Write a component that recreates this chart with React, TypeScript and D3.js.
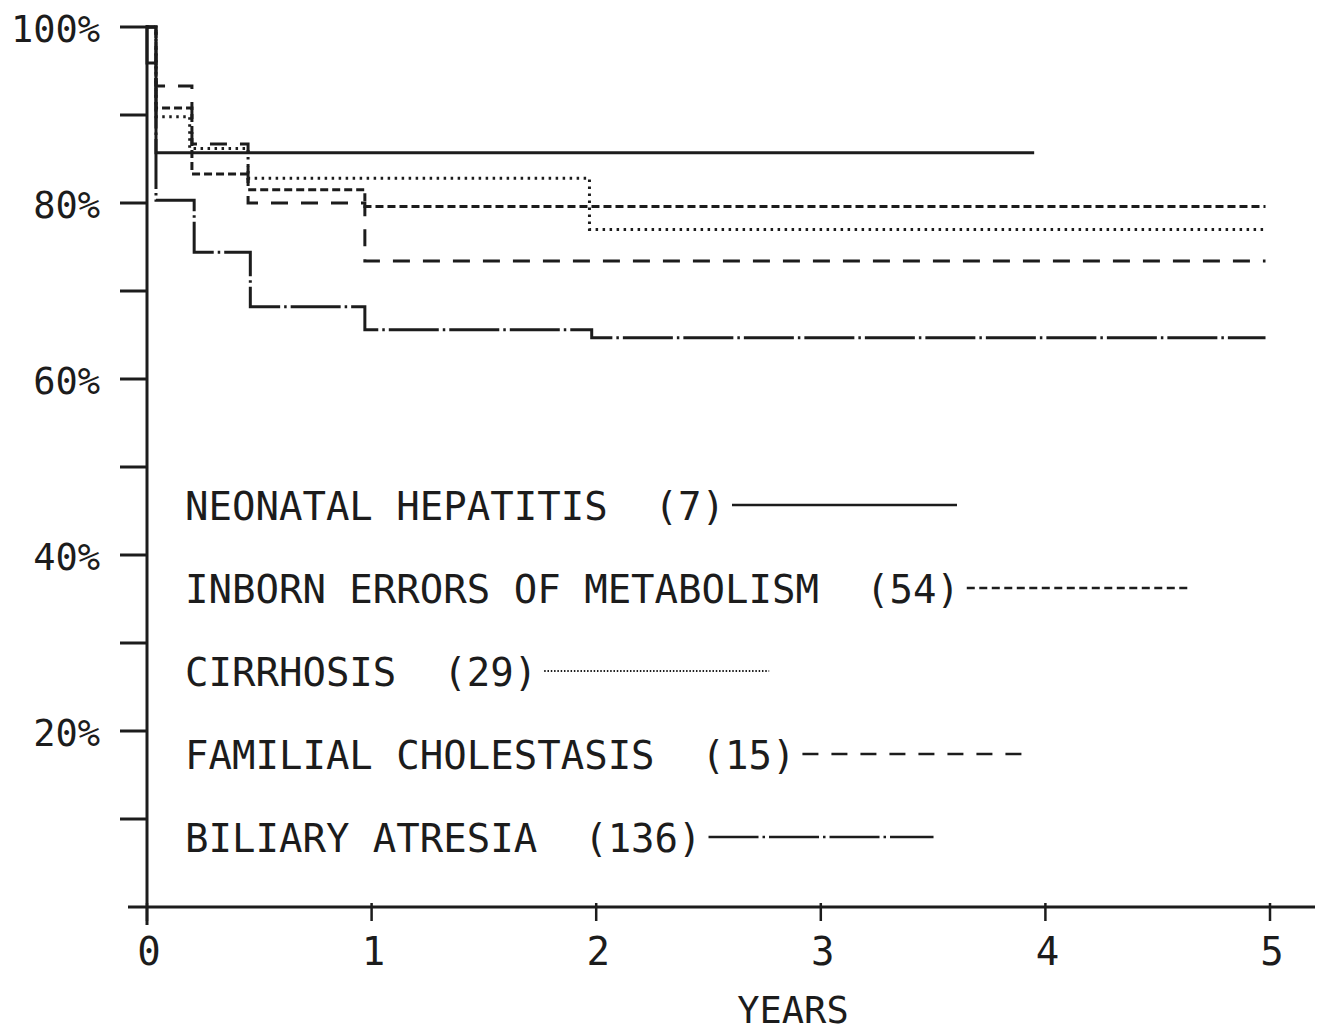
import * as d3 from 'd3';
import React from 'react';

// survival (%) by years after transplant
const neonatal = [[0, 100], [0.04, 85.7], [3.95, 85.7]];
const inborn = [[0, 100], [0.04, 90.8], [0.2, 83.3], [0.45, 81.5], [0.97, 79.6], [4.98, 79.6]];
const cirrhosis = [[0, 100], [0.04, 89.8], [0.19, 86.2], [0.45, 82.8], [1.97, 77.0], [4.98, 77.0]];
const familial = [[0, 100], [0.04, 93.3], [0.2, 86.7], [0.45, 80.0], [0.97, 73.4], [4.98, 73.4]];
const biliary = [[0, 100], [0, 95.9], [0.04, 80.3], [0.21, 74.4], [0.46, 68.2], [0.97, 65.6], [1.98, 64.7], [4.98, 64.7]];

const legendLabels = [
    'NEONATAL HEPATITIS  (7)',
    'INBORN ERRORS OF METABOLISM  (54)',
    'CIRRHOSIS  (29)',
    'FAMILIAL CHOLESTASIS  (15)',
    'BILIARY ATRESIA  (136)'
];

const yTicks = [10, 20, 30, 40, 50, 60, 70, 80, 90, 100];
const yLabels = [20, 40, 60, 80, 100];
const xTicks = [0, 1, 2, 3, 4, 5];

const FONT = "'DejaVu Sans Mono', monospace";
const INK = '#1c1c1c';

const series = [
    { data: neonatal, dash: null, legendDash: null },
    { data: inborn, dash: '8 4', legendDash: '8 4.5' },
    { data: cirrhosis, dash: '2.5 4.5', legendDash: '1.5 1.8' },
    { data: familial, dash: '17 13', legendDash: '16 13' },
    { data: biliary, dash: '50 4 2.5 4', legendDash: '50 4 2.5 4' }
];

export default function App() {
    const x = d3.scaleLinear().domain([0, 5]).range([147, 1270]);
    const y = d3.scaleLinear().domain([0, 100]).range([907, 27]);

    const line = d3.line<number[]>()
        .x(d => x(d[0]))
        .y(d => y(d[1]))
        .curve(d3.curveStepAfter);

    const pitch = 0.602 * 39;
    const legendTop = 520;
    const legendStep = 83;

    return (
        <div style={{ position: 'absolute', left: 0, top: 0 }}>
            <svg width={1324} height={1034} style={{ display: 'block', background: '#fff' }}>
                {/* axes */}
                <line x1={x(0)} x2={x(0)} y1={y(100) - 2} y2={925} stroke={INK} strokeWidth={3} />
                <line x1={128} x2={1315} y1={y(0)} y2={y(0)} stroke={INK} strokeWidth={3} />

                {yTicks.map(t => (
                    <line key={'yt' + t} x1={x(0) - 27} x2={x(0)} y1={y(t)} y2={y(t)}
                        stroke={INK} strokeWidth={3} />
                ))}
                {yLabels.map(t => (
                    <text key={'yl' + t} x={100} y={y(t) + 15} textAnchor='end'
                        fontFamily={FONT} fontSize={37} fill={INK}>{t}%</text>
                ))}

                {xTicks.map(t => (
                    <line key={'xt' + t} x1={x(t)} x2={x(t)} y1={y(0) - 4} y2={y(0) + 14}
                        stroke={INK} strokeWidth={2.5} />
                ))}
                {xTicks.map(t => (
                    <text key={'xl' + t} x={x(t) + 2} y={965} textAnchor='middle'
                        fontFamily={FONT} fontSize={39} fill={INK}>{t}</text>
                ))}
                <text x={793} y={1023} textAnchor='middle' fontFamily={FONT} fontSize={37}
                    fill={INK}>YEARS</text>

                {/* survival curves */}
                {series.map((s, i) => (
                    <path key={'s' + i} d={line(s.data) || ''} fill='none' stroke={INK}
                        strokeWidth={3} strokeDasharray={s.dash || undefined} />
                ))}

                {/* legend */}
                {legendLabels.map((label, i) => {
                    const by = legendTop + i * legendStep;
                    const start = 185 + label.length * pitch + 7;
                    return (
                        <g key={'lg' + i}>
                            <text x={185} y={by} fontFamily={FONT} fontSize={39} fill={INK}
                                style={{ whiteSpace: 'pre' }}>{label}</text>
                            <line x1={start} x2={start + 225} y1={by - 15} y2={by - 15}
                                stroke={INK} strokeWidth={i === 2 ? 1.8 : 2.5}
                                strokeDasharray={series[i].legendDash || undefined} />
                        </g>
                    );
                })}
            </svg>
        </div>
    );
}
